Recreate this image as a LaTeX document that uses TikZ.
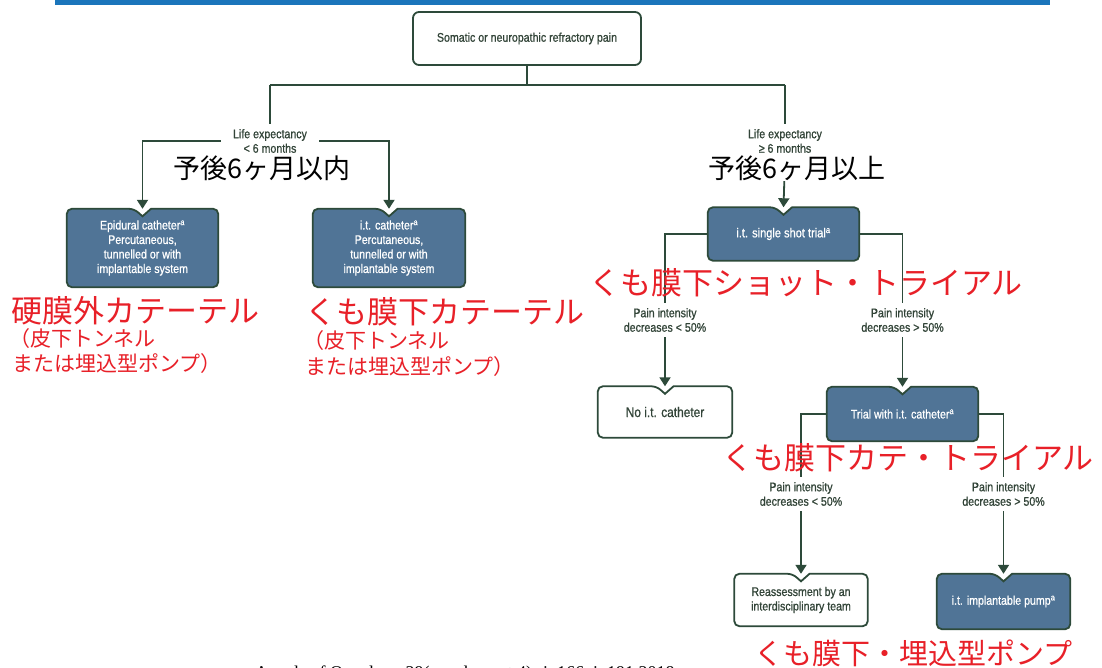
\documentclass[tikz,border=0pt]{standalone}
\usepackage{fontspec}
\setmainfont{Liberation Sans}[FakeStretch=0.85,FakeBold=0.8]
\newfontfamily\jpfont{Noto Sans CJK JP}
\newfontfamily\refserif{Liberation Serif}
\usetikzlibrary{arrows.meta,backgrounds}
\definecolor{lnc}{RGB}{45,74,58}
\definecolor{txc}{RGB}{50,68,56}
\definecolor{boxblue}{RGB}{80,116,150}
\definecolor{topbar}{RGB}{27,117,187}
\definecolor{jpred}{RGB}{232,32,40}
\newcommand\notchedbox[2]{%
  \draw[boxline, fill=#2] ([xshift=-8.5pt]#1.north) -- ([yshift=-7.5pt]#1.north) -- ([xshift=8.5pt]#1.north)
    [rounded corners=5pt] -- (#1.north east) -- (#1.south east) -- (#1.south west) -- (#1.north west) -- cycle;}
\begin{document}
\begin{tikzpicture}[x=1pt,y=-1pt,
  boxline/.style={draw=lnc, line width=1.8pt},
  ln/.style={draw=lnc, line width=1.8pt},
  arr/.style={ln, -{Triangle[width=11pt,length=9pt]}},
  lbl/.style={font=\fontsize{12.5}{14.5}\selectfont, text=txc, align=center, inner xsep=12pt, inner ysep=5pt},
  bluebox/.style={font=\fontsize{12.5}{14.5}\selectfont, text=white, align=center, inner sep=0pt},
  whitebox/.style={font=\fontsize{12.5}{14.5}\selectfont, text=txc, align=center, inner sep=0pt},
  jpbig/.style={font=\jpfont\fontsize{31}{34}\selectfont, text=jpred, inner sep=0pt, anchor=west},
  jpsmall/.style={font=\jpfont\fontsize{21}{24}\selectfont, text=jpred, inner sep=0pt, anchor=west},
  jpblack/.style={font=\jpfont\fontsize{27}{30}\selectfont, text=black, inner sep=1pt}]
\useasboundingbox (0,0) rectangle (1102,668);
\clip (0,0) rectangle (1102,668);
\fill[topbar] (55,0) rectangle (1050,5.5);

% top box
\node[draw=lnc, line width=1.8pt, rounded corners=6pt, fill=white, minimum width=228pt, minimum height=53pt,
      font=\fontsize{12.5}{14.5}\selectfont, text=txc] (top) at (527,38.5) {Somatic or neuropathic refractory pain};

% boxes
\node[bluebox, minimum width=151pt, minimum height=78pt] (epi) at (142.5,248) {Epidural catheter\textsuperscript{a}\\Percutaneous,\\tunnelled or with\\implantable system};
\node[bluebox, minimum width=152pt, minimum height=78pt] (itc) at (389,248) {i.t. catheter\textsuperscript{a}\\Percutaneous,\\tunnelled or with\\implantable system};
\node[bluebox, minimum width=151pt, minimum height=53pt, font=\fontsize{13}{15}\selectfont] (sst) at (783.5,234) {i.t. single shot trial\textsuperscript{a}};
\node[whitebox, minimum width=134pt, minimum height=51pt, font=\fontsize{14}{16}\selectfont] (noit) at (665,412) {No i.t. catheter};
\node[bluebox, minimum width=151pt, minimum height=54pt] (trial) at (902.5,414) {Trial with i.t. catheter\textsuperscript{a}};
\node[whitebox, minimum width=133pt, minimum height=52pt] (reas) at (801,600) {Reassessment by an\\interdisciplinary team};
\node[bluebox, minimum width=133pt, minimum height=55pt] (pump) at (1003.5,601.5) {i.t. implantable pump\textsuperscript{a}};

\begin{scope}[on background layer]
  \fill[white] (0,6) rectangle (1102,668);
  \notchedbox{epi}{boxblue}
  \notchedbox{itc}{boxblue}
  \notchedbox{sst}{boxblue}
  \notchedbox{noit}{white}
  \notchedbox{trial}{boxblue}
  \notchedbox{reas}{white}
  \notchedbox{pump}{boxblue}
\end{scope}

% labels
\node[lbl] (lel) at (270,141) {Life expectancy\\< 6 months};
\node[lbl] (ler) at (785,141) {Life expectancy\\≥ 6 months};
\node[lbl] (p1) at (665,320) {Pain intensity\\decreases < 50\%};
\node[lbl] (p2) at (902.5,320) {Pain intensity\\decreases > 50\%};
\node[lbl] (p3) at (801,494) {Pain intensity\\decreases < 50\%};
\node[lbl] (p4) at (1003.5,494) {Pain intensity\\decreases > 50\%};

% connectors
\coordinate (j0) at (527,85);
\coordinate (jl) at (270,85);
\coordinate (jr) at (785,85);
\draw[ln] (top.south) -- (j0);
\draw[ln] (jl) -- (jr);
\draw[ln] (jl) -- (lel.north);
\draw[ln] (jr) -- (ler.north);
\draw[arr] (lel.west) -| (epi.north);
\draw[arr] (lel.east) -| (itc.north);
\draw[arr] (ler.south) -- (sst.north);
\draw[ln] (sst.west) -| (p1.north);
\draw[ln] (sst.east) -| (p2.north);
\draw[arr] (p1.south) -- (noit.north);
\draw[arr] (p2.south) -- (trial.north);
\draw[ln] (trial.west) -| (p3.north);
\draw[ln] (trial.east) -| (p4.north);
\draw[arr] (p3.south) -- (reas.north);
\draw[arr] (p4.south) -- (pump.north);

% Japanese annotations
\node[jpblack] (jl6) at (262,168) {予後6ヶ月以内};
\node[jpblack, fill=white] (jr6) at (797,168) {予後6ヶ月以上};
\node[jpbig] (jepi) at (11,311) {硬膜外カテーテル};
\node[jpsmall] (jepi2) at (9,339) {（皮下トンネル};
\node[jpsmall] (jepi3) at (12,364) {または埋込型ポンプ）};
\node[jpbig] (jitc) at (305,312) {くも膜下カテーテル};
\node[jpsmall] (jitc2) at (303,341) {（皮下トンネル};
\node[jpsmall] (jitc3) at (305,367) {または埋込型ポンプ）};
\node[jpbig] (jsst) at (589,283) {くも膜下ショット・トライアル};
\node[jpbig] (jtrial) at (722,458) {くも膜下カテ・トライアル};
\node[jpbig, font=\jpfont\fontsize{29}{32}\selectfont] (jpump) at (754,653) {くも膜下・埋込型ポンプ};

% source line (cut off at the bottom edge, as in the reference)
\node[anchor=base west, inner sep=0pt, font=\refserif\fontsize{18}{20}\selectfont, text=black] (src) at (255,678) {Annals of Oncology 29(supplement 4): iv166–iv191 2018};
\end{tikzpicture}
\end{document}
